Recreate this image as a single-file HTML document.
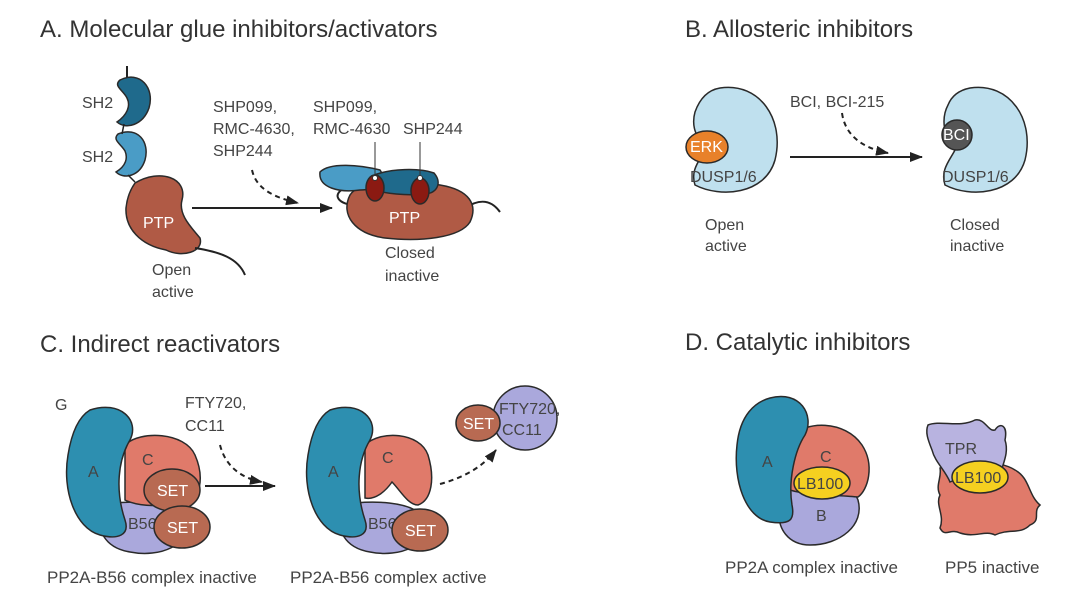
<!DOCTYPE html>
<html><head><meta charset="utf-8"><style>
html,body{margin:0;padding:0;background:#fff;}
svg{display:block;font-family:"Liberation Sans",sans-serif;}
.t{font-size:24px;fill:#333;}
.l{font-size:16px;fill:#444;}
.b{font-size:17px;fill:#444;}
.w{font-size:16px;fill:#fff;}
.o{stroke:#2a2a2a;stroke-width:1.5;}
</style></head><body>
<svg width="1080" height="600" viewBox="0 0 1080 600">
<defs>
<marker id="ah" markerUnits="userSpaceOnUse" markerWidth="13" markerHeight="10" refX="12" refY="5" orient="auto"><path d="M0,0 L13,5 L0,10 z" fill="#222"/></marker>
</defs>
<text class="t" x="40" y="37">A.  Molecular glue inhibitors/activators</text>
<text class="t" x="685" y="37">B.  Allosteric inhibitors</text>
<text class="t" x="40" y="352">C.  Indirect reactivators</text>
<text class="t" x="685" y="350">D.  Catalytic inhibitors</text>

<!-- Panel A open -->
<line x1="127" y1="66" x2="127" y2="80" stroke="#222" stroke-width="2"/>
<path class="o" d="M120,80 C140,70 155,88 149,108 C143,125 126,130 117,122 C127,115 131,106 127,98 C123,90 113,86 120,80 z" fill="#1f6a8c"/>
<path class="o" d="M118,134 C138,126 150,142 145,160 C140,176 124,180 116,172 C126,166 128,158 125,151 C121,144 112,140 118,134 z" fill="#4a9cc6"/>
<line x1="124" y1="124" x2="122" y2="134" stroke="#222" stroke-width="1.5"/>
<line x1="128" y1="175" x2="135" y2="182" stroke="#222" stroke-width="1.5"/>
<path class="o" d="M135,183 C160,168 188,178 182,200 C178,215 192,228 200,238 C204,252 182,258 166,250 C140,245 125,228 126,208 C127,198 130,190 135,183 z" fill="#b05a45"/>
<path d="M195,248 C220,252 238,258 245,275" fill="none" stroke="#222" stroke-width="2"/>
<text class="l" x="82" y="108">SH2</text>
<text class="l" x="82" y="162">SH2</text>
<text class="w" x="143" y="228">PTP</text>
<text class="l" x="152" y="275">Open</text>
<text class="l" x="152" y="297">active</text>
<line x1="192" y1="208" x2="332" y2="208" stroke="#222" stroke-width="2" marker-end="url(#ah)"/>
<path d="M252,170 C256,188 272,197 298,203" fill="none" stroke="#222" stroke-width="2" stroke-dasharray="5,4" marker-end="url(#ah)"/>
<text class="l" x="213" y="112">SHP099,</text>
<text class="l" x="213" y="134">RMC-4630,</text>
<text class="l" x="213" y="156">SHP244</text>

<!-- Panel A closed -->
<path d="M465,208 C485,195 495,205 500,212" fill="none" stroke="#222" stroke-width="2"/>
<path d="M345,188 C330,195 340,205 355,205" fill="none" stroke="#222" stroke-width="2"/>
<path class="o" d="M350,195 C360,180 400,178 440,185 C470,190 478,205 470,222 C460,238 420,242 385,238 C355,234 340,215 350,195 z" fill="#b05a45"/>
<path class="o" d="M320,172 C330,162 360,165 380,170 C387,180 377,190 360,190 C340,193 318,188 320,172 z" fill="#4a9cc6"/>
<path class="o" d="M372,176 C390,168 420,168 434,173 C442,182 438,193 425,194 C405,196 385,193 372,190 z" fill="#1f6a8c"/>
<line x1="375" y1="142" x2="375" y2="178" stroke="#333" stroke-width="1"/>
<line x1="420" y1="142" x2="420" y2="178" stroke="#333" stroke-width="1"/>
<ellipse class="o" cx="375" cy="188" rx="9" ry="13" fill="#8b1a12"/>
<ellipse class="o" cx="420" cy="191" rx="9" ry="13" fill="#8b1a12"/>
<circle cx="375" cy="178" r="2.5" fill="#fff" stroke="#333"/>
<circle cx="420" cy="178" r="2.5" fill="#fff" stroke="#333"/>
<text class="w" x="389" y="223">PTP</text>
<text class="l" x="313" y="112">SHP099,</text>
<text class="l" x="313" y="134">RMC-4630</text>
<text class="l" x="403" y="134">SHP244</text>
<text class="l" x="385" y="258">Closed</text>
<text class="l" x="385" y="281">inactive</text>

<!-- Panel B -->
<path class="o" d="M720,88 C760,82 785,120 775,160 C765,195 720,198 695,185 C690,170 700,160 705,150 C700,140 690,130 695,112 C700,98 708,90 720,88 z" fill="#bfe0ee"/>
<ellipse class="o" cx="707" cy="147" rx="21" ry="16" fill="#e8812a"/>
<text class="w" x="690" y="152">ERK</text>
<text class="l" x="690" y="182">DUSP1/6</text>
<text class="l" x="705" y="230">Open</text>
<text class="l" x="705" y="251">active</text>
<line x1="790" y1="157" x2="922" y2="157" stroke="#222" stroke-width="2" marker-end="url(#ah)"/>
<path d="M842,113 C845,135 862,148 888,153" fill="none" stroke="#222" stroke-width="2" stroke-dasharray="5,4" marker-end="url(#ah)"/>
<text class="l" x="790" y="107">BCI, BCI-215</text>
<path class="o" d="M970,88 C1010,82 1035,120 1025,160 C1015,195 970,198 945,185 C940,170 950,160 955,150 C945,140 940,120 948,105 C952,95 960,90 970,88 z" fill="#bfe0ee"/>
<circle class="o" cx="957" cy="135" r="15" fill="#555"/>
<text class="w" x="943" y="140">BCI</text>
<text class="l" x="942" y="182">DUSP1/6</text>
<text class="l" x="950" y="230">Closed</text>
<text class="l" x="950" y="251">inactive</text>

<!-- Panel C first complex -->
<text class="l" x="55" y="410">G</text>
<path class="o" d="M100,505 C130,500 175,500 185,520 C192,545 160,558 130,552 C105,548 95,530 100,505 z" fill="#aaa8dc"/>
<path class="o" d="M125,445 C140,430 185,432 195,455 C205,478 200,500 185,505 C165,505 140,508 125,500 z" fill="#e07a6a"/>
<path class="o" d="M90,410 C120,400 140,420 130,440 C118,460 115,490 125,520 C130,535 118,540 100,535 C75,528 62,490 68,455 C72,430 80,416 90,410 z" fill="#2d8fb0"/>
<text class="l" x="88" y="477" fill="#234">A</text>
<text class="l" x="142" y="465">C</text>
<text class="l" x="128" y="529">B56</text>
<ellipse class="o" cx="172" cy="490" rx="28" ry="21" fill="#b86a52"/>
<text class="w" x="157" y="496">SET</text>
<ellipse class="o" cx="182" cy="527" rx="28" ry="21" fill="#b86a52"/>
<text class="w" x="167" y="533">SET</text>
<line x1="205" y1="486" x2="275" y2="486" stroke="#222" stroke-width="2" marker-end="url(#ah)"/>
<path d="M220,445 C225,465 240,478 262,482" fill="none" stroke="#222" stroke-width="2" stroke-dasharray="5,4" marker-end="url(#ah)"/>
<text class="l" x="185" y="408">FTY720,</text>
<text class="l" x="185" y="431">CC11</text>
<text class="b" x="47" y="583">PP2A-B56 complex inactive</text>

<!-- Panel C second complex -->
<path class="o" d="M340,505 C370,500 415,500 425,520 C432,545 400,558 370,552 C345,548 335,530 340,505 z" fill="#aaa8dc"/>
<path class="o" d="M365,445 C380,430 420,432 428,455 C435,478 432,500 418,505 C408,505 400,490 392,482 C385,492 375,500 365,498 z" fill="#e07a6a"/>
<path class="o" d="M330,410 C360,400 380,420 370,440 C358,460 355,490 365,520 C370,535 358,540 340,535 C315,528 302,490 308,455 C312,430 320,416 330,410 z" fill="#2d8fb0"/>
<text class="l" x="328" y="477" fill="#234">A</text>
<text class="l" x="382" y="463">C</text>
<text class="l" x="368" y="529">B56</text>
<ellipse class="o" cx="420" cy="530" rx="28" ry="21" fill="#b86a52"/>
<text class="w" x="405" y="536">SET</text>
<path d="M440,484 C462,478 482,468 496,450" fill="none" stroke="#222" stroke-width="2" stroke-dasharray="5,4" marker-end="url(#ah)"/>
<circle class="o" cx="525" cy="418" r="32" fill="#aaa8dc"/>
<ellipse class="o" cx="478" cy="423" rx="22" ry="18" fill="#b86a52"/>
<text class="w" x="463" y="429">SET</text>
<text class="l" x="499" y="414">FTY720,</text>
<text class="l" x="502" y="435">CC11</text>
<text class="b" x="290" y="583">PP2A-B56 complex active</text>

<!-- Panel D PP2A -->
<path class="o" d="M785,485 C815,475 850,478 858,500 C865,525 840,545 810,545 C790,545 775,530 780,505 z" fill="#aaa8dc"/>
<path class="o" d="M790,438 C805,420 845,420 862,445 C875,465 868,490 858,497 C840,495 805,495 790,490 z" fill="#e07a6a"/>
<path class="o" d="M770,398 C800,390 815,415 805,435 C795,450 788,480 792,505 C795,520 790,525 770,522 C745,518 733,480 737,445 C740,415 755,402 770,398 z" fill="#2d8fb0"/>
<text class="l" x="762" y="467" fill="#234">A</text>
<text class="l" x="820" y="462">C</text>
<text class="l" x="816" y="521">B</text>
<ellipse class="o" cx="822" cy="483" rx="28" ry="16" fill="#f5d020"/>
<text class="l" x="797" y="489" fill="#333">LB100</text>
<text class="b" x="725" y="573">PP2A complex inactive</text>

<!-- Panel D PP5 -->
<path class="o" d="M940,468 C960,458 1000,460 1015,470 C1030,478 1028,495 1040,505 C1032,512 1042,520 1030,525 C1020,535 1010,528 995,535 C985,530 975,538 960,533 C950,528 945,538 940,528 C945,515 935,505 940,495 C935,485 942,478 940,468 z" fill="#e07a6a"/>
<path class="o" d="M928,425 C940,420 960,428 975,420 C985,418 988,432 995,430 C1000,422 1008,425 1005,440 C1010,455 1000,468 1000,478 C985,475 965,475 950,482 C945,470 935,462 932,450 C928,440 925,432 928,425 z" fill="#b8b3e0"/>
<text class="l" x="945" y="454" fill="#333">TPR</text>
<ellipse class="o" cx="980" cy="477" rx="28" ry="16" fill="#f5d020"/>
<text class="l" x="955" y="483" fill="#333">LB100</text>
<text class="b" x="945" y="573">PP5 inactive</text>
</svg>
</body></html>
